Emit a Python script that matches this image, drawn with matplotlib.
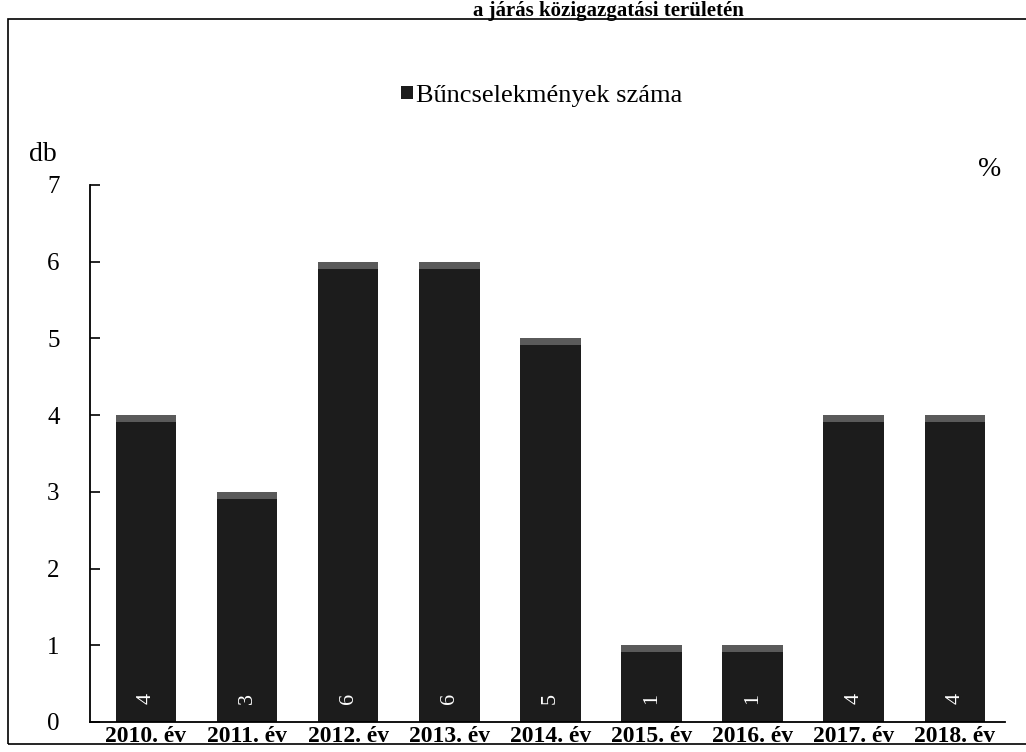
import matplotlib
matplotlib.use("Agg")
import matplotlib.pyplot as plt
from matplotlib.patches import Rectangle

categories = ["2010. év", "2011. év", "2012. év", "2013. év", "2014. év",
              "2015. év", "2016. év", "2017. év", "2018. év"]
values = [4, 3, 6, 6, 5, 1, 1, 4, 4]
series_name = "Bűncselekmények száma"
yticks = [0, 1, 2, 3, 4, 5, 6, 7]

plt.rcParams['font.family'] = ['Liberation Serif', 'DejaVu Serif']

fig = plt.figure(figsize=(10.26, 7.52), dpi=100)
ax = fig.add_axes([0.088, 0.040, 0.892, 0.714])

x = list(range(len(categories)))
ax.bar(x, values, width=0.6, color='#1c1c1c', zorder=2)
cap = [0.09] * len(values)
ax.bar(x, cap, bottom=[v - 0.09 for v in values], width=0.6, color='#5a5a5a', zorder=3)

for xi, v in zip(x, values):
    ax.text(xi, 0.3, str(v), rotation=90, color='white', ha='center', va='center',
            fontsize=16, zorder=4)

ax.set_xlim(-0.55, 8.5)
ax.set_ylim(0, 7)
ax.set_yticks(yticks)
ax.set_yticklabels([str(t) for t in yticks], fontsize=18)
ax.tick_params(axis='y', direction='in', length=7, width=1.2, pad=22)
ax.set_xticks(x)
ax.set_xticklabels(categories, fontsize=17, fontweight='bold')
ax.tick_params(axis='x', length=0, pad=3)
for s in ['top', 'right']:
    ax.spines[s].set_visible(False)
ax.spines['left'].set_linewidth(1.3)
ax.spines['bottom'].set_linewidth(1.3)

fig.text(0.028, 0.795, "db", fontsize=20, ha='left', va='center')
fig.text(0.965, 0.775, "%", fontsize=20, ha='center', va='center')

# legend
fig.patches.append(Rectangle((0.391, 0.868), 0.012, 0.017, transform=fig.transFigure,
                             facecolor='#1c1c1c', edgecolor='none', figure=fig))
fig.text(0.405, 0.872, series_name, fontsize=19, ha='left', va='center')

# outer frame
fig.patches.append(Rectangle((0.008, 0.010), 1.2, 0.965, transform=fig.transFigure,
                             facecolor='none', edgecolor='black', linewidth=1.2, figure=fig))

# title at top
fig.text(0.725, 0.999, "a járás közigazgatási területén", fontsize=15, fontweight='bold',
         ha='right', va='top')

fig.savefig("out.png", dpi=100)
